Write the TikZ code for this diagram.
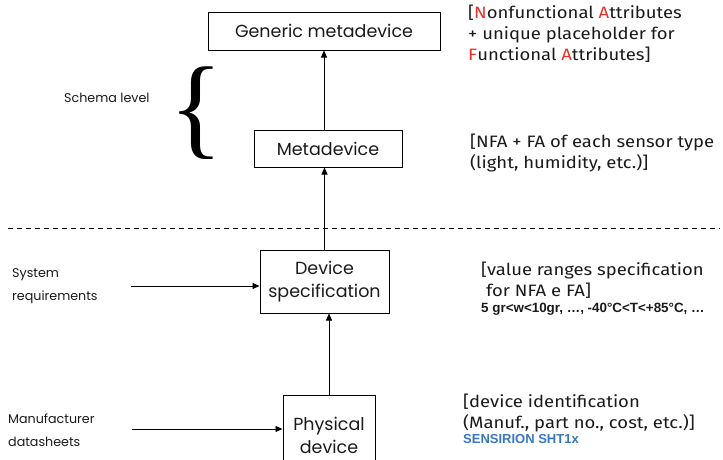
\documentclass[tikz,border=0pt]{standalone}
\usepackage{fontspec}
\setmainfont{Poppins}
\newfontfamily\notefont[FakeStretch=1.12]{Fira Sans}
\newfontfamily\arialfont{Liberation Sans}
\newfontfamily\bracefont{Liberation Serif}
\usetikzlibrary{arrows.meta}
\definecolor{attrred}{HTML}{E8302A}
\definecolor{sensblue}{HTML}{3A76BE}
\definecolor{txt}{HTML}{1A1A1A}
\tikzset{
  box/.style={draw=black, line width=1pt, minimum width=#1, inner sep=0pt, text=txt,
    font=\fontsize{17.5}{23}\selectfont, align=center},
  note/.style={anchor=north west, inner sep=0pt, text=txt, align=left,
    font=\notefont\fontsize{16.5}{21}\selectfont},
  side/.style={anchor=west, inner sep=0pt, text=txt, align=left,
    font=\fontsize{12.7}{23}\selectfont},
  flow/.style={-{Triangle[length=7pt,width=6pt]}, line width=0.9pt},
}
\newcommand{\rA}[1]{\textcolor{attrred}{#1}}
\begin{document}
\begin{tikzpicture}[x=1pt,y=-1pt]
\useasboundingbox (0,0) rectangle (723,459);
% boxes
\node[box=232pt, minimum height=38pt] (gen) at (324,31) {Generic metadevice};
\node[box=148pt, minimum height=37pt] (meta) at (328,148.5) {Metadevice};
\node[box=129pt, minimum height=63pt] (spec) at (324.5,281.5) {Device\\specification};
\node[box=92pt, minimum height=80pt, anchor=north] (phys) at (329,395) {Physical\\device};
% brace and level label
\node[inner sep=0pt, font=\bracefont\fontsize{112}{112}\selectfont] (brace) at (196,113) {\{};
\node[side] (schema) at (64,98) {Schema level};
% level separator
\coordinate (sepL) at (8,228);
\coordinate (sepR) at (720,228);
\draw[line width=0.8pt, dash pattern=on 5pt off 4pt] (sepL) -- (sepR);
% inputs
\node[side] (sysreq) at (12,286) {System\\requirements};
\node[side] (manuf) at (8,430) {Manufacturer\\datasheets};
\coordinate (sysA) at (131,286);
\coordinate (manA) at (132,429);
\draw[flow] (sysA) -- (spec.west |- sysA);
\draw[flow] (manA) -- (phys.west |- manA);
% vertical flow
\draw[flow] (meta.north -| gen.south) -- (gen.south);
\draw[flow] (spec.north) -- (spec.north |- meta.south);
\draw[flow] (phys.north) -- (phys.north |- spec.south);
% notes
\node[note] (n1) at (468,5) {[\rA{N}onfunctional \rA{A}ttributes\\+ unique placeholder for\\\rA{F}unctional \rA{A}ttributes]};
\node[note] (n2) at (470,134) {[NFA + FA of each sensor type\\(light, humidity, etc.)]};
\node[note] (n3) at (481,262) {[value ranges specification\\\ for NFA e FA]};
\node[anchor=north west, inner sep=0pt, text=txt, font=\arialfont\bfseries\fontsize{13.4}{15}\selectfont] (n3b) at (481,303) {5 gr<w<10gr, …, -40°C<T<+85°C, …};
\node[note] (n4) at (463,394) {[device identification\\(Manuf., part no., cost, etc.)]};
\node[anchor=north west, inner sep=0pt, text=sensblue, font=\arialfont\bfseries\fontsize{13}{15}\selectfont] (n4b) at (463,434) {SENSIRION SHT1x};
\end{tikzpicture}
\end{document}
